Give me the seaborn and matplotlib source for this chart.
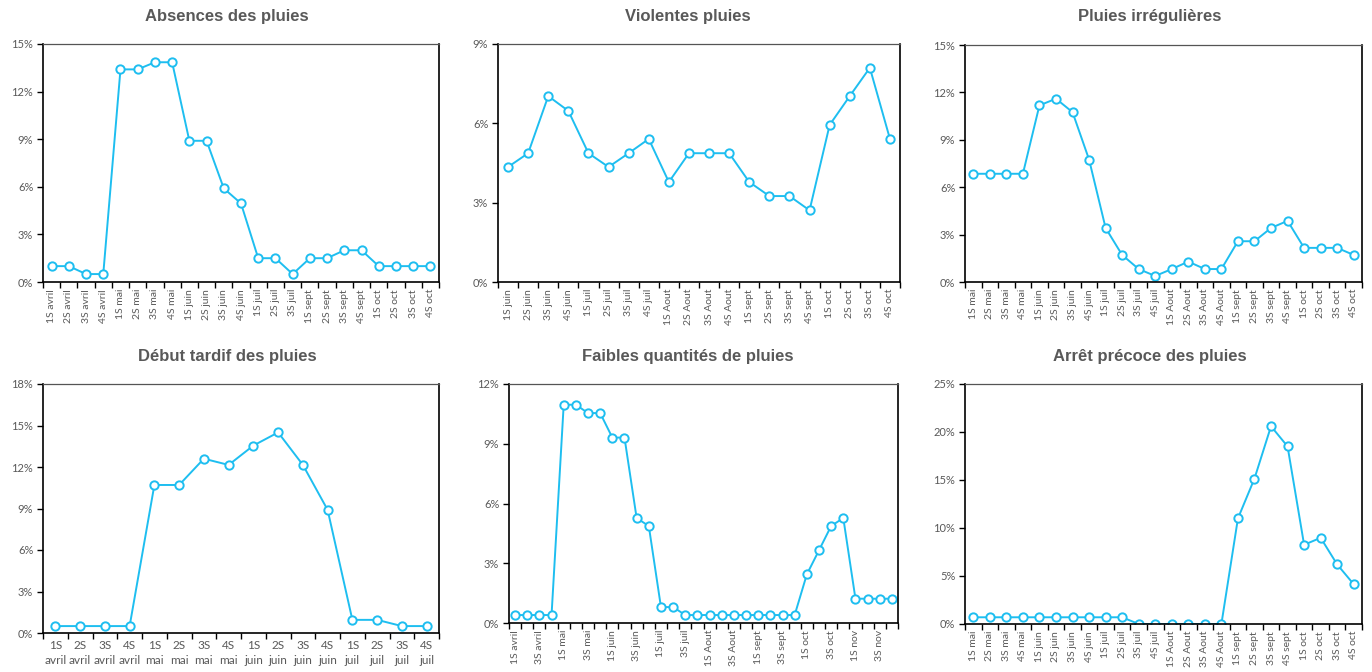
import matplotlib
matplotlib.use('Agg')
import matplotlib.pyplot as plt
import seaborn as sns
import pandas as pd
import numpy as np
from matplotlib.ticker import FuncFormatter

sns.set_style('white')
plt.rcParams['font.family'] = ['Lato', 'DejaVu Sans']

# données (en %)
mois1 = ['avril'] * 4 + ['mai'] * 4 + ['juin'] * 4 + ['juil'] * 3 + ['sept'] * 4 + ['oct'] * 4
sem1 = [1, 2, 3, 4] * 3 + [1, 2, 3] + [1, 2, 3, 4] * 2
absences = [1.0, 1.0, 0.5, 0.5, 13.4, 13.4, 13.85, 13.85, 8.9, 8.9, 5.9, 4.95,
            1.5, 1.5, 0.5, 1.5, 1.5, 2.0, 2.0, 1.0, 1.0, 1.0, 1.0]

mois2 = ['juin', 'juil', 'Aout', 'sept', 'oct']
violentes = [4.35, 4.87, 7.03, 6.47, 4.87, 4.35, 4.87, 5.41, 3.78, 4.87,
             4.87, 4.87, 3.78, 3.25, 3.25, 2.71, 5.94, 7.03, 8.1, 5.41]

mois3 = ['mai', 'juin', 'juil', 'Aout', 'sept', 'oct']
irregulieres = [6.85, 6.85, 6.85, 6.85, 11.18, 11.6, 10.75, 7.75, 3.42, 1.71, 0.82, 0.38,
                0.82, 1.29, 0.82, 0.82, 2.58, 2.58, 3.42, 3.87, 2.16, 2.16, 2.16, 1.71]

mois4 = ['avril', 'mai', 'juin', 'juil']
debut_tardif = [0.5, 0.5, 0.5, 0.5, 10.7, 10.7, 12.6, 12.15, 13.55, 14.5, 12.15, 8.9,
                0.95, 0.95, 0.5, 0.5]

mois5 = ['avril', 'mai', 'juin', 'juil', 'Aout', 'sept', 'oct', 'nov']
faibles = [0.4, 0.4, 0.4, 0.4, 10.96, 10.96, 10.54, 10.54, 9.31, 9.31, 5.27, 4.87,
           0.8, 0.8, 0.4, 0.4, 0.4, 0.4, 0.4, 0.4, 0.4, 0.4, 0.4, 0.4,
           2.44, 3.65, 4.87, 5.27, 1.22, 1.22, 1.22, 1.22]

mois6 = ['mai', 'juin', 'juil', 'Aout', 'sept', 'oct']
arret = [0.7, 0.7, 0.7, 0.7, 0.7, 0.7, 0.7, 0.7, 0.7, 0.7, 0.0, 0.0,
         0.0, 0.0, 0.0, 0.0, 11.0, 15.15, 20.6, 18.5, 8.25, 8.98, 6.2, 4.14]


def semaines(mois):
    return [f'{s}S {m}' for m in mois for s in range(1, 5)]


labels1 = [f'{s}S {m}' for s, m in zip(sem1, mois1)]
labels4 = [f'{s}S\n{m}' for m in mois4 for s in range(1, 5)]

panneaux = [
    ('Absences des pluies', labels1, absences, 15, 3),
    ('Violentes pluies', semaines(mois2), violentes, 9, 3),
    ('Pluies irrégulières', semaines(mois3), irregulieres, 15, 3),
    ('Début tardif des pluies', labels4, debut_tardif, 18, 3),
    ('Faibles quantités de pluies', semaines(mois5), faibles, 12, 3),
    ('Arrêt précoce des pluies', semaines(mois6), arret, 25, 5),
]

# positions en pixels (gauche, droite, haut, bas) et centre du titre
W, H = 1372, 672
cadres = [(43, 439, 44, 282), (498, 900, 44, 282), (965, 1362, 45, 282),
          (43, 439, 384, 633), (509, 898, 384, 623), (965, 1362, 384, 624)]
titres_x = [227, 688, 1150, 227, 688, 1150]
titres_y = [17, 17, 17, 357, 357, 357]

bleu = '#1EBEF0'
gris = '#595959'

fig = plt.figure(figsize=(W / 100, H / 100), dpi=100)

for i, (titre, labels, valeurs, ymax, pas) in enumerate(panneaux):
    g, d, h, b = cadres[i]
    ax = fig.add_axes([g / W, 1 - b / H, (d - g) / W, (b - h) / H])
    df = pd.DataFrame({'pos': np.arange(len(valeurs)), 'val': valeurs})
    sns.lineplot(data=df, x='pos', y='val', ax=ax, color=bleu, linewidth=1.4,
                 marker='o', markersize=6, markerfacecolor='white',
                 markeredgecolor=bleu, markeredgewidth=1.4)
    n = len(valeurs)
    ax.set_xlim(-0.5, n - 0.5)
    ax.set_ylim(0, ymax)
    ax.set_yticks(np.arange(0, ymax + 0.1, pas))
    ax.yaxis.set_major_formatter(FuncFormatter(lambda v, p: f'{v:.0f}%'))
    ax.set_xlabel('')
    ax.set_ylabel('')

    step = 2 if n > 30 else 1
    ax.set_xticks(np.arange(0, n, step))
    if i == 3:
        ax.set_xticklabels(labels[::step], rotation=0, fontsize=8.5, color=gris,
                           linespacing=1.5)
    else:
        ax.set_xticklabels(labels[::step], rotation=90, fontsize=7.5, color=gris)
    ax.set_xticks(np.arange(-0.5, n, 1), minor=True)
    ax.tick_params(axis='x', which='major', length=0, pad=5)
    ax.tick_params(axis='x', which='minor', length=4, width=1, color='black',
                   direction='out', bottom=True)
    ax.tick_params(axis='y', length=4, width=1, color='black', direction='out',
                   left=True, labelsize=8, labelcolor=gris, pad=3)

    for cote in ['left', 'bottom', 'right', 'top']:
        ax.spines[cote].set_color('black')
        ax.spines[cote].set_linewidth(1.2)
    ax.spines['top'].set_color('#555555')
    ax.spines['top'].set_linewidth(0.9)

    fig.text(titres_x[i] / W, 1 - titres_y[i] / H, titre, ha='center', va='center',
             fontsize=12, fontweight='bold', color=gris,
             family=['Liberation Sans Narrow', 'Liberation Sans', 'DejaVu Sans'])

fig.savefig('out.png', dpi=100, facecolor='white')
